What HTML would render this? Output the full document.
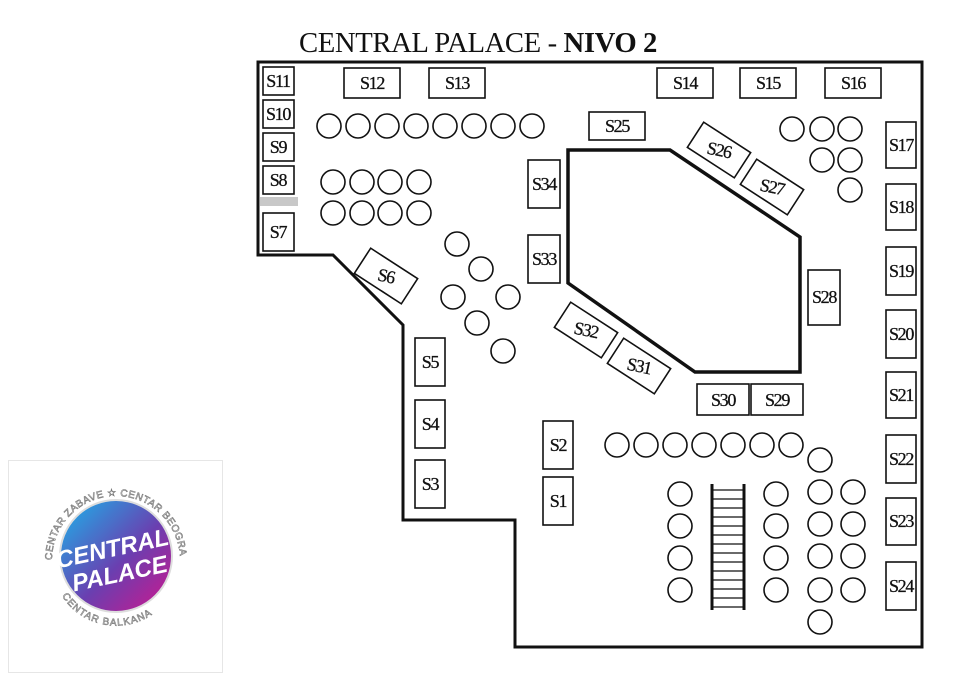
<!DOCTYPE html>
<html><head><meta charset="utf-8"><style>
html,body{margin:0;padding:0;background:#fff;}
svg{display:block;}
.l{font-family:"Liberation Serif",serif;font-size:18px;letter-spacing:-1.3px;text-anchor:middle;dominant-baseline:central;fill:#111;stroke:#111;stroke-width:0.3;}
</style></head><body>
<svg width="960" height="678" viewBox="0 0 960 678" xmlns="http://www.w3.org/2000/svg">
<text x="299" y="52" font-family="Liberation Serif,serif" font-size="28" letter-spacing="-0.4" fill="#111" textLength="358" lengthAdjust="spacingAndGlyphs">CENTRAL PALACE - <tspan font-weight="bold">NIVO 2</tspan></text>
<path d="M258,62 H922 V647 H515 V520 H403 V325 L333,255 H258 Z" fill="none" stroke="#111" stroke-width="3"/>
<path d="M568,150 H670 L800,237 V372 H695 L568,283 Z" fill="none" stroke="#111" stroke-width="3.5"/>
<rect x="260" y="197" width="38" height="9" fill="#c8c8c8"/>
<g fill="#fff" stroke="#111" stroke-width="1.6">
<rect x="263" y="67" width="31" height="28"/><rect x="263" y="100" width="31" height="28"/>
<rect x="263" y="133" width="31" height="28"/><rect x="263" y="166" width="31" height="28"/>
<rect x="263" y="213" width="31" height="38"/>
<rect x="344" y="68" width="56" height="30"/><rect x="429" y="68" width="56" height="30"/>
<rect x="657" y="68" width="56" height="30"/><rect x="740" y="68" width="56" height="30"/>
<rect x="825" y="68" width="56" height="30"/>
<rect x="589" y="112" width="56" height="28"/>
<rect x="528" y="160" width="32" height="48"/><rect x="528" y="235" width="32" height="48"/>
<rect x="808" y="270" width="32" height="55"/>
<rect x="697" y="384" width="52" height="31"/><rect x="751" y="384" width="52" height="31"/>
<rect x="886" y="122" width="30" height="46"/><rect x="886" y="184" width="30" height="46"/>
<rect x="886" y="247" width="30" height="48"/><rect x="886" y="310" width="30" height="48"/>
<rect x="886" y="372" width="30" height="46"/><rect x="886" y="435" width="30" height="48"/>
<rect x="886" y="498" width="30" height="47"/><rect x="886" y="562" width="30" height="48"/>
<rect x="415" y="338" width="30" height="48"/><rect x="415" y="400" width="30" height="48"/>
<rect x="415" y="460" width="30" height="48"/>
<rect x="543" y="421" width="30" height="48"/><rect x="543" y="477" width="30" height="48"/>
<rect x="-28" y="-15" width="56" height="30" transform="translate(719,150) rotate(33)"/>
<rect x="-28" y="-15" width="56" height="30" transform="translate(772,187) rotate(33)"/>
<rect x="-28" y="-15" width="56" height="30" transform="translate(386,276) rotate(33)"/>
<rect x="-28" y="-15" width="56" height="30" transform="translate(586,330) rotate(33)"/>
<rect x="-28" y="-15" width="56" height="30" transform="translate(639,366) rotate(33)"/>
</g>
<g fill="none" stroke="#111" stroke-width="1.6">
<circle cx="329" cy="126" r="12"/><circle cx="358" cy="126" r="12"/><circle cx="387" cy="126" r="12"/><circle cx="416" cy="126" r="12"/><circle cx="445" cy="126" r="12"/><circle cx="474" cy="126" r="12"/><circle cx="503" cy="126" r="12"/><circle cx="532" cy="126" r="12"/>
<circle cx="333" cy="182" r="12"/><circle cx="362" cy="182" r="12"/><circle cx="390" cy="182" r="12"/><circle cx="419" cy="182" r="12"/>
<circle cx="333" cy="213" r="12"/><circle cx="362" cy="213" r="12"/><circle cx="390" cy="213" r="12"/><circle cx="419" cy="213" r="12"/>
<circle cx="457" cy="244" r="12"/><circle cx="481" cy="269" r="12"/><circle cx="453" cy="297" r="12"/><circle cx="508" cy="297" r="12"/><circle cx="477" cy="323" r="12"/><circle cx="503" cy="351" r="12"/>
<circle cx="792" cy="129" r="12"/><circle cx="822" cy="129" r="12"/><circle cx="850" cy="129" r="12"/><circle cx="822" cy="160" r="12"/><circle cx="850" cy="160" r="12"/><circle cx="850" cy="190" r="12"/>
<circle cx="617" cy="445" r="12"/><circle cx="646" cy="445" r="12"/><circle cx="675" cy="445" r="12"/><circle cx="704" cy="445" r="12"/><circle cx="733" cy="445" r="12"/><circle cx="762" cy="445" r="12"/><circle cx="791" cy="445" r="12"/>
<circle cx="820" cy="460" r="12"/>
<circle cx="680" cy="494" r="12"/><circle cx="680" cy="526" r="12"/><circle cx="680" cy="558" r="12"/><circle cx="680" cy="590" r="12"/>
<circle cx="776" cy="494" r="12"/><circle cx="776" cy="526" r="12"/><circle cx="776" cy="558" r="12"/><circle cx="776" cy="590" r="12"/>
<circle cx="820" cy="492" r="12"/><circle cx="820" cy="524" r="12"/><circle cx="820" cy="556" r="12"/><circle cx="820" cy="590" r="12"/><circle cx="820" cy="622" r="12"/>
<circle cx="853" cy="492" r="12"/><circle cx="853" cy="524" r="12"/><circle cx="853" cy="556" r="12"/><circle cx="853" cy="590" r="12"/>
</g>
<g stroke="#111">
<line x1="712" y1="484" x2="712" y2="610" stroke-width="3"/><line x1="744" y1="484" x2="744" y2="610" stroke-width="3"/>
<path d="M712,490H744M712,499H744M712,508H744M712,517H744M712,526H744M712,535H744M712,544H744M712,553H744M712,562H744M712,571H744M712,580H744M712,589H744M712,598H744M712,607H744" stroke-width="1.2"/>
</g>
<g>
<text class="l" x="278" y="81">S11</text><text class="l" x="278" y="114">S10</text><text class="l" x="278" y="147">S9</text><text class="l" x="278" y="180">S8</text><text class="l" x="278" y="232">S7</text>
<text class="l" x="372" y="83">S12</text><text class="l" x="457" y="83">S13</text><text class="l" x="685" y="83">S14</text><text class="l" x="768" y="83">S15</text><text class="l" x="853" y="83">S16</text>
<text class="l" x="617" y="126">S25</text><text class="l" x="544" y="184">S34</text><text class="l" x="544" y="259">S33</text>
<text class="l" x="824" y="297">S28</text><text class="l" x="723" y="400">S30</text><text class="l" x="777" y="400">S29</text>
<text class="l" x="901" y="145">S17</text><text class="l" x="901" y="207">S18</text><text class="l" x="901" y="271">S19</text><text class="l" x="901" y="334">S20</text><text class="l" x="901" y="395">S21</text><text class="l" x="901" y="459">S22</text><text class="l" x="901" y="521">S23</text><text class="l" x="901" y="586">S24</text>
<text class="l" x="430" y="362">S5</text><text class="l" x="430" y="424">S4</text><text class="l" x="430" y="484">S3</text>
<text class="l" x="558" y="445">S2</text><text class="l" x="558" y="501">S1</text>
<text class="l" x="719" y="150" transform="rotate(12 719 150)">S26</text>
<text class="l" x="772" y="187" transform="rotate(12 772 187)">S27</text>
<text class="l" x="386" y="276" transform="rotate(12 386 276)">S6</text>
<text class="l" x="586" y="330" transform="rotate(12 586 330)">S32</text>
<text class="l" x="639" y="366" transform="rotate(12 639 366)">S31</text>
</g>
<rect x="8.5" y="460.5" width="214" height="212" fill="#fff" stroke="#e6e6e6"/>
<defs><linearGradient id="g" x1="0" y1="0" x2="1" y2="1"><stop offset="0" stop-color="#19b6ec"/><stop offset="0.55" stop-color="#6a3fb0"/><stop offset="1" stop-color="#d0168c"/></linearGradient>
<path id="arc" d="M52,560 A64,64 0 1,1 180,560"/><path id="arc2" d="M62,596 A64,64 0 0,0 170,596"/></defs>
<circle cx="116" cy="556" r="56" fill="url(#g)" stroke="#ddd" stroke-width="2"/>
<text font-family="Liberation Sans,sans-serif" font-size="10" fill="#fff" stroke="#777" stroke-width="0.6" letter-spacing="0.5"><textPath href="#arc">CENTAR ZABAVE ☆ CENTAR BEOGRADA</textPath></text>
<text font-family="Liberation Sans,sans-serif" font-size="10" fill="#fff" stroke="#777" stroke-width="0.6" letter-spacing="1"><textPath href="#arc2">CENTAR BALKANA</textPath></text>
<g font-family="Liberation Sans,sans-serif" font-style="italic" font-weight="bold" fill="#fff" text-anchor="middle" transform="rotate(-12 116 556)">
<text x="114" y="556" font-size="24">CENTRAL</text><text x="116" y="582" font-size="24">PALACE</text></g>
</svg>
</body></html>
